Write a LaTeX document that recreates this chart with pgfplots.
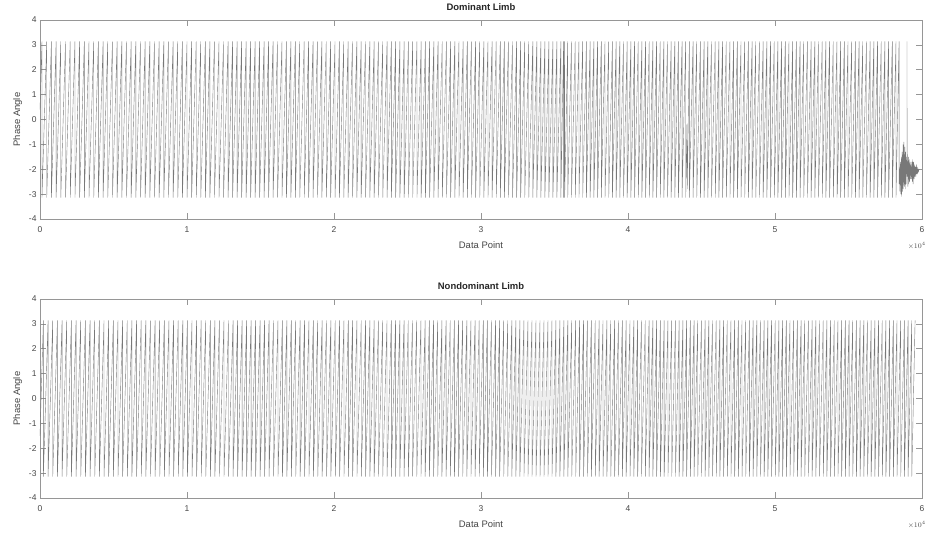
\documentclass[border=0pt]{standalone}
\usepackage{fontspec}
\setmainfont{Liberation Sans}
\usepackage{pgfplots}
\pgfplotsset{compat=1.18}
\definecolor{axgray}{RGB}{150,150,150}
\definecolor{txtgray}{RGB}{70,70,70}
\definecolor{linegray}{RGB}{120,120,120}
\pgfplotsset{
  phasestyle/.style={
    scale only axis, width=882bp, height=199bp,
    xmin=0, xmax=60000, ymin=-4, ymax=4,
    xtick={0,10000,20000,30000,40000,50000,60000},
    ytick={-4,-3,-2,-1,0,1,2,3,4},
    scaled x ticks=base 10:-4,
    xtick scale label code/.code={$\times10^{4}$},
    every x tick scale label/.style={at={(rel axis cs:1,0)}, anchor=north east, yshift=-19bp, xshift=4bp, font=\fontsize{7.5}{8}\selectfont, text=txtgray, inner sep=0pt},
    axis line style={axgray, line width=0.6bp},
    tick style={axgray, line width=0.6bp},
    major tick length=6bp, tick align=inside, tick pos=both,
    ticklabel style={font=\fontsize{8.5}{10}\selectfont, text=txtgray},
    xticklabel style={yshift=-4bp},
    /pgf/number format/assume math mode=true,
    xlabel={Data Point}, ylabel={Phase Angle},
    label style={font=\fontsize{9.5}{11}\selectfont, text=txtgray},
    xlabel style={yshift=-2bp},
    title style={font=\bfseries\fontsize{9.5}{11}\selectfont, text=black!85},
    cycle list={{linegray, line width=0.65bp, mark=none, line join=round}},
  }
}
\begin{document}
\begin{tikzpicture}
\begin{axis}[phasestyle, title={Dominant Limb}]
\addplot coordinates {
(0,0.4)
(135,3.14)(135,-3.14)(457,3.14)(457,-3.14)(776,3.14)(776,-3.14)(1098,3.14)(1098,-3.14)(1415,3.14)(1415,-3.14)(1737,3.14)(1737,-3.14)(2055,3.14)(2055,-3.14)(2378,3.14)(2378,-3.14)
(2696,3.14)(2696,-3.14)(3017,3.14)(3017,-3.14)(3334,3.14)(3334,-3.14)(3656,3.14)(3656,-3.14)(3972,3.14)(3972,-3.14)(4293,3.14)(4293,-3.14)(4610,3.14)(4610,-3.14)(4930,3.14)(4930,-3.14)
(5248,3.14)(5248,-3.14)(5567,3.14)(5567,-3.14)(5884,3.14)(5884,-3.14)(6203,3.14)(6203,-3.14)(6520,3.14)(6520,-3.14)(6838,3.14)(6838,-3.14)(7155,3.14)(7155,-3.14)(7472,3.14)(7472,-3.14)
(7790,3.14)(7790,-3.14)(8106,3.14)(8106,-3.14)(8423,3.14)(8423,-3.14)(8739,3.14)(8739,-3.14)(9056,3.14)(9056,-3.14)(9372,3.14)(9372,-3.14)(9688,3.14)(9688,-3.14)(10003,3.14)(10003,-3.14)
(10316,3.14)(10316,-3.14)(10627,3.14)(10627,-3.14)(10938,3.14)(10938,-3.14)(11249,3.14)(11249,-3.14)(11559,3.14)(11559,-3.14)(11868,3.14)(11868,-3.14)(12178,3.14)(12178,-3.14)(12486,3.14)(12486,-3.14)
(12795,3.14)(12795,-3.14)(13103,3.14)(13103,-3.14)(13410,3.14)(13410,-3.14)(13717,3.14)(13717,-3.14)(14024,3.14)(14024,-3.14)(14330,3.14)(14330,-3.14)(14636,3.14)(14636,-3.14)(14941,3.14)(14941,-3.14)
(15246,3.14)(15246,-3.14)(15551,3.14)(15551,-3.14)(15855,3.14)(15855,-3.14)(16159,3.14)(16159,-3.14)(16462,3.14)(16462,-3.14)(16765,3.14)(16765,-3.14)(17068,3.14)(17068,-3.14)(17370,3.14)(17370,-3.14)
(17672,3.14)(17672,-3.14)(17973,3.14)(17973,-3.14)(18274,3.14)(18274,-3.14)(18575,3.14)(18575,-3.14)(18875,3.14)(18875,-3.14)(19175,3.14)(19175,-3.14)(19474,3.14)(19474,-3.14)(19773,3.14)(19773,-3.14)
(20071,3.14)(20071,-3.14)(20369,3.14)(20369,-3.14)(20666,3.14)(20666,-3.14)(20963,3.14)(20963,-3.14)(21259,3.14)(21259,-3.14)(21555,3.14)(21555,-3.14)(21850,3.14)(21850,-3.14)(22145,3.14)(22145,-3.14)
(22439,3.14)(22439,-3.14)(22733,3.14)(22733,-3.14)(23026,3.14)(23026,-3.14)(23319,3.14)(23319,-3.14)(23611,3.14)(23611,-3.14)(23903,3.14)(23903,-3.14)(24194,3.14)(24194,-3.14)(24485,3.14)(24485,-3.14)
(24775,3.14)(24775,-3.14)(25065,3.14)(25065,-3.14)(25354,3.14)(25354,-3.14)(25643,3.14)(25643,-3.14)(25931,3.14)(25931,-3.14)(26219,3.14)(26219,-3.14)(26506,3.14)(26506,-3.14)(26793,3.14)(26793,-3.14)
(27079,3.14)(27079,-3.14)(27365,3.14)(27365,-3.14)(27650,3.14)(27650,-3.14)(27935,3.14)(27935,-3.14)(28219,3.14)(28219,-3.14)(28503,3.14)(28503,-3.14)(28786,3.14)(28786,-3.14)(29069,3.14)(29069,-3.14)
(29351,3.14)(29351,-3.14)(29633,3.14)(29633,-3.14)(29914,3.14)(29914,-3.14)(30195,3.14)(30195,-3.14)(30475,3.14)(30475,-3.14)(30755,3.14)(30755,-3.14)(31034,3.14)(31034,-3.14)(31313,3.14)(31313,-3.14)
(31591,3.14)(31591,-3.14)(31869,3.14)(31869,-3.14)(32146,3.14)(32146,-3.14)(32423,3.14)(32423,-3.14)(32699,3.14)(32699,-3.14)(32975,3.14)(32975,-3.14)(33250,3.14)(33250,-3.14)(33525,3.14)(33525,-3.14)
(33799,3.14)(33799,-3.14)(34073,3.14)(34073,-3.14)(34346,3.14)(34346,-3.14)(34619,3.14)(34619,-3.14)(34891,3.14)(34891,-3.14)(35163,3.14)(35163,-3.14)(35434,3.14)(35434,-3.14)
(35620,3.14)(35620,-3.14)(35660,2.2)(35670,-2.5)(35690,3.14)(35690,-3.14)
(35900,3.14)(35900,-3.14)(36155,3.14)(36155,-3.14)(36410,3.14)(36410,-3.14)(36664,3.14)(36664,-3.14)(36918,3.14)(36918,-3.14)(37172,3.14)(37172,-3.14)(37425,3.14)(37425,-3.14)(37678,3.14)(37678,-3.14)
(37931,3.14)(37931,-3.14)(38184,3.14)(38184,-3.14)(38436,3.14)(38436,-3.14)(38688,3.14)(38688,-3.14)(38940,3.14)(38940,-3.14)(39192,3.14)(39192,-3.14)(39443,3.14)(39443,-3.14)(39694,3.14)(39694,-3.14)
(39945,3.14)(39945,-3.14)(40196,3.14)(40196,-3.14)(40446,3.14)(40446,-3.14)(40696,3.14)(40696,-3.14)(40946,3.14)(40946,-3.14)(41196,3.14)(41196,-3.14)(41445,3.14)(41445,-3.14)(41694,3.14)(41694,-3.14)
(41943,3.14)(41943,-3.14)(42192,3.14)(42192,-3.14)(42440,3.14)(42440,-3.14)(42688,3.14)(42688,-3.14)(42936,3.14)(42936,-3.14)(43184,3.14)(43184,-3.14)(43431,3.14)(43431,-3.14)(43678,3.14)(43678,-3.14)
(43925,3.14)(43925,-3.14)(44010,-0.2)(44030,-2.8)
(44175,3.14)(44175,-3.14)(44426,3.14)(44426,-3.14)(44677,3.14)(44677,-3.14)(44928,3.14)(44928,-3.14)(45179,3.14)(45179,-3.14)(45430,3.14)(45430,-3.14)(45681,3.14)(45681,-3.14)(45932,3.14)(45932,-3.14)
(46183,3.14)(46183,-3.14)(46434,3.14)(46434,-3.14)(46685,3.14)(46685,-3.14)(46936,3.14)(46936,-3.14)(47187,3.14)(47187,-3.14)(47438,3.14)(47438,-3.14)(47689,3.14)(47689,-3.14)(47940,3.14)(47940,-3.14)
(48191,3.14)(48191,-3.14)(48442,3.14)(48442,-3.14)(48693,3.14)(48693,-3.14)(48944,3.14)(48944,-3.14)(49195,3.14)(49195,-3.14)(49446,3.14)(49446,-3.14)(49697,3.14)(49697,-3.14)(49948,3.14)(49948,-3.14)
(50199,3.14)(50199,-3.14)(50450,3.14)(50450,-3.14)(50701,3.14)(50701,-3.14)(50952,3.14)(50952,-3.14)(51203,3.14)(51203,-3.14)(51454,3.14)(51454,-3.14)(51705,3.14)(51705,-3.14)(51956,3.14)(51956,-3.14)
(52207,3.14)(52207,-3.14)(52458,3.14)(52458,-3.14)(52709,3.14)(52709,-3.14)(52960,3.14)(52960,-3.14)(53211,3.14)(53211,-3.14)(53462,3.14)(53462,-3.14)(53713,3.14)(53713,-3.14)(53964,3.14)(53964,-3.14)
(54215,3.14)(54215,-3.14)(54230,1.5)(54240,-3.0)
(54466,3.14)(54466,-3.14)(54717,3.14)(54717,-3.14)(54968,3.14)(54968,-3.14)(55219,3.14)(55219,-3.14)(55470,3.14)(55470,-3.14)(55721,3.14)(55721,-3.14)(55972,3.14)(55972,-3.14)(56223,3.14)(56223,-3.14)
(56474,3.14)(56474,-3.14)(56725,3.14)(56725,-3.14)(56976,3.14)(56976,-3.14)(57227,3.14)(57227,-3.14)(57478,3.14)(57478,-3.14)(57729,3.14)(57729,-3.14)(57980,3.14)(57980,-3.14)(58231,3.14)(58231,-3.14)
(58440,3.14)(58440,-2.6)
(58470,-1.9)(58500,-2.9)(58530,-1.7)(58560,-3.0)(58590,-1.5)(58620,-3.1)(58650,-1.3)(58680,-2.9)(58710,-1.0)(58740,-2.8)(58770,-0.9)(58800,-2.7)(58830,-1.1)(58860,-2.8)(58890,-1.3)(58920,-2.6)(58950,-1.5)(58975,-2.2)
(58980,3.14)(58985,-2.3)
(59010,-1.4)(59040,-2.7)(59070,-1.5)(59100,-2.6)(59130,-1.6)(59160,-2.5)(59190,-1.7)(59220,-2.4)(59250,-1.8)(59280,-2.4)(59310,-1.7)(59340,-2.5)(59370,-1.6)(59400,-2.6)(59430,-1.7)(59460,-2.4)
(59490,-1.8)(59520,-2.3)(59550,-1.9)(59580,-2.3)(59610,-1.8)(59640,-2.2)(59670,-1.9)(59700,-2.2)(59730,-2.0)(59760,-2.1)(59800,-2.0)(59850,-2.0)
};
\end{axis}
\begin{axis}[phasestyle, at={(0,-279bp)}, title={Nondominant Limb}]
\addplot coordinates {
(0,-1.5)
(230,3.14)(230,-3.14)(549,3.14)(549,-3.14)(866,3.14)(866,-3.14)(1185,3.14)(1185,-3.14)(1502,3.14)(1502,-3.14)(1820,3.14)(1820,-3.14)(2137,3.14)(2137,-3.14)(2455,3.14)(2455,-3.14)
(2772,3.14)(2772,-3.14)(3090,3.14)(3090,-3.14)(3406,3.14)(3406,-3.14)(3724,3.14)(3724,-3.14)(4040,3.14)(4040,-3.14)(4357,3.14)(4357,-3.14)(4673,3.14)(4673,-3.14)(4990,3.14)(4990,-3.14)
(5306,3.14)(5306,-3.14)(5622,3.14)(5622,-3.14)(5938,3.14)(5938,-3.14)(6254,3.14)(6254,-3.14)(6569,3.14)(6569,-3.14)(6885,3.14)(6885,-3.14)(7200,3.14)(7200,-3.14)(7515,3.14)(7515,-3.14)
(7830,3.14)(7830,-3.14)(8145,3.14)(8145,-3.14)(8459,3.14)(8459,-3.14)(8774,3.14)(8774,-3.14)(9088,3.14)(9088,-3.14)(9402,3.14)(9402,-3.14)(9716,3.14)(9716,-3.14)
(10029,3.14)(10029,-3.14)(10342,3.14)(10342,-3.14)(10654,3.14)(10654,-3.14)(10966,3.14)(10966,-3.14)(11277,3.14)(11277,-3.14)(11588,3.14)(11588,-3.14)(11898,3.14)(11898,-3.14)(12208,3.14)(12208,-3.14)
(12517,3.14)(12517,-3.14)(12826,3.14)(12826,-3.14)(13134,3.14)(13134,-3.14)(13442,3.14)(13442,-3.14)(13749,3.14)(13749,-3.14)(14056,3.14)(14056,-3.14)(14362,3.14)(14362,-3.14)(14668,3.14)(14668,-3.14)
(14973,3.14)(14973,-3.14)(15278,3.14)(15278,-3.14)(15582,3.14)(15582,-3.14)(15886,3.14)(15886,-3.14)(16189,3.14)(16189,-3.14)(16492,3.14)(16492,-3.14)(16794,3.14)(16794,-3.14)(17096,3.14)(17096,-3.14)
(17397,3.14)(17397,-3.14)(17698,3.14)(17698,-3.14)(17998,3.14)(17998,-3.14)(18298,3.14)(18298,-3.14)(18597,3.14)(18597,-3.14)(18896,3.14)(18896,-3.14)(19194,3.14)(19194,-3.14)(19492,3.14)(19492,-3.14)
(19789,3.14)(19789,-3.14)(20086,3.14)(20086,-3.14)(20382,3.14)(20382,-3.14)(20678,3.14)(20678,-3.14)(20973,3.14)(20973,-3.14)(21268,3.14)(21268,-3.14)(21562,3.14)(21562,-3.14)(21856,3.14)(21856,-3.14)
(22149,3.14)(22149,-3.14)(22442,3.14)(22442,-3.14)(22734,3.14)(22734,-3.14)(23026,3.14)(23026,-3.14)(23317,3.14)(23317,-3.14)(23608,3.14)(23608,-3.14)(23898,3.14)(23898,-3.14)(24188,3.14)(24188,-3.14)
(24477,3.14)(24477,-3.14)(24766,3.14)(24766,-3.14)(25054,3.14)(25054,-3.14)(25342,3.14)(25342,-3.14)(25629,3.14)(25629,-3.14)(25916,3.14)(25916,-3.14)(26202,3.14)(26202,-3.14)(26488,3.14)(26488,-3.14)
(26773,3.14)(26773,-3.14)(27058,3.14)(27058,-3.14)(27342,3.14)(27342,-3.14)(27626,3.14)(27626,-3.14)(27909,3.14)(27909,-3.14)(28192,3.14)(28192,-3.14)(28474,3.14)(28474,-3.14)(28756,3.14)(28756,-3.14)
(29037,3.14)(29037,-3.14)(29318,3.14)(29318,-3.14)(29598,3.14)(29598,-3.14)(29878,3.14)(29878,-3.14)
(30157,3.14)(30157,-3.14)(30436,3.14)(30436,-3.14)(30714,3.14)(30714,-3.14)(30992,3.14)(30992,-3.14)(31269,3.14)(31269,-3.14)(31546,3.14)(31546,-3.14)(31822,3.14)(31822,-3.14)(32098,3.14)(32098,-3.14)
(32373,3.14)(32373,-3.14)(32648,3.14)(32648,-3.14)(32922,3.14)(32922,-3.14)(33196,3.14)(33196,-3.14)(33469,3.14)(33469,-3.14)(33742,3.14)(33742,-3.14)(34014,3.14)(34014,-3.14)(34286,3.14)(34286,-3.14)
(34557,3.14)(34557,-3.14)(34828,3.14)(34828,-3.14)(35098,3.14)(35098,-3.14)(35368,3.14)(35368,-3.14)(35637,3.14)(35637,-3.14)(35906,3.14)(35906,-3.14)(36174,3.14)(36174,-3.14)(36442,3.14)(36442,-3.14)
(36709,3.14)(36709,-3.14)(36976,3.14)(36976,-3.14)(37242,3.14)(37242,-3.14)(37508,3.14)(37508,-3.14)(37773,3.14)(37773,-3.14)(38038,3.14)(38038,-3.14)(38302,3.14)(38302,-3.14)(38566,3.14)(38566,-3.14)
(38829,3.14)(38829,-3.14)(39092,3.14)(39092,-3.14)(39354,3.14)(39354,-3.14)(39616,3.14)(39616,-3.14)(39877,3.14)(39877,-3.14)
(40138,3.14)(40138,-3.14)(40398,3.14)(40398,-3.14)(40658,3.14)(40658,-3.14)(40917,3.14)(40917,-3.14)(41176,3.14)(41176,-3.14)(41434,3.14)(41434,-3.14)(41692,3.14)(41692,-3.14)(41949,3.14)(41949,-3.14)
(42206,3.14)(42206,-3.14)(42462,3.14)(42462,-3.14)(42718,3.14)(42718,-3.14)(42973,3.14)(42973,-3.14)(43228,3.14)(43228,-3.14)(43482,3.14)(43482,-3.14)(43736,3.14)(43736,-3.14)(43989,3.14)(43989,-3.14)
(44242,3.14)(44242,-3.14)(44494,3.14)(44494,-3.14)(44746,3.14)(44746,-3.14)(44997,3.14)(44997,-3.14)(45248,3.14)(45248,-3.14)(45499,3.14)(45499,-3.14)(45750,3.14)(45750,-3.14)(46001,3.14)(46001,-3.14)
(46252,3.14)(46252,-3.14)(46503,3.14)(46503,-3.14)(46754,3.14)(46754,-3.14)(47005,3.14)(47005,-3.14)(47256,3.14)(47256,-3.14)(47507,3.14)(47507,-3.14)(47758,3.14)(47758,-3.14)(48009,3.14)(48009,-3.14)
(48260,3.14)(48260,-3.14)(48511,3.14)(48511,-3.14)(48762,3.14)(48762,-3.14)(49013,3.14)(49013,-3.14)(49264,3.14)(49264,-3.14)(49515,3.14)(49515,-3.14)(49766,3.14)(49766,-3.14)(50017,3.14)(50017,-3.14)
(50268,3.14)(50268,-3.14)(50519,3.14)(50519,-3.14)(50770,3.14)(50770,-3.14)(51021,3.14)(51021,-3.14)(51272,3.14)(51272,-3.14)(51523,3.14)(51523,-3.14)(51774,3.14)(51774,-3.14)(52025,3.14)(52025,-3.14)
(52276,3.14)(52276,-3.14)(52527,3.14)(52527,-3.14)(52778,3.14)(52778,-3.14)(53029,3.14)(53029,-3.14)(53280,3.14)(53280,-3.14)(53531,3.14)(53531,-3.14)(53782,3.14)(53782,-3.14)(54033,3.14)(54033,-3.14)
(54284,3.14)(54284,-3.14)(54535,3.14)(54535,-3.14)(54786,3.14)(54786,-3.14)(55037,3.14)(55037,-3.14)(55288,3.14)(55288,-3.14)(55539,3.14)(55539,-3.14)(55790,3.14)(55790,-3.14)(56041,3.14)(56041,-3.14)
(56292,3.14)(56292,-3.14)(56543,3.14)(56543,-3.14)(56794,3.14)(56794,-3.14)(57045,3.14)(57045,-3.14)(57296,3.14)(57296,-3.14)(57547,3.14)(57547,-3.14)(57798,3.14)(57798,-3.14)(58049,3.14)(58049,-3.14)
(58300,3.14)(58300,-3.14)(58551,3.14)(58551,-3.14)(58802,3.14)(58802,-3.14)(59053,3.14)(59053,-3.14)(59304,3.14)(59304,-3.14)(59530,3.14)
};
\end{axis}
\pgfresetboundingbox
\path[use as bounding box] (-40bp,219bp) rectangle (887bp,-316bp);
\end{tikzpicture}
\end{document}
